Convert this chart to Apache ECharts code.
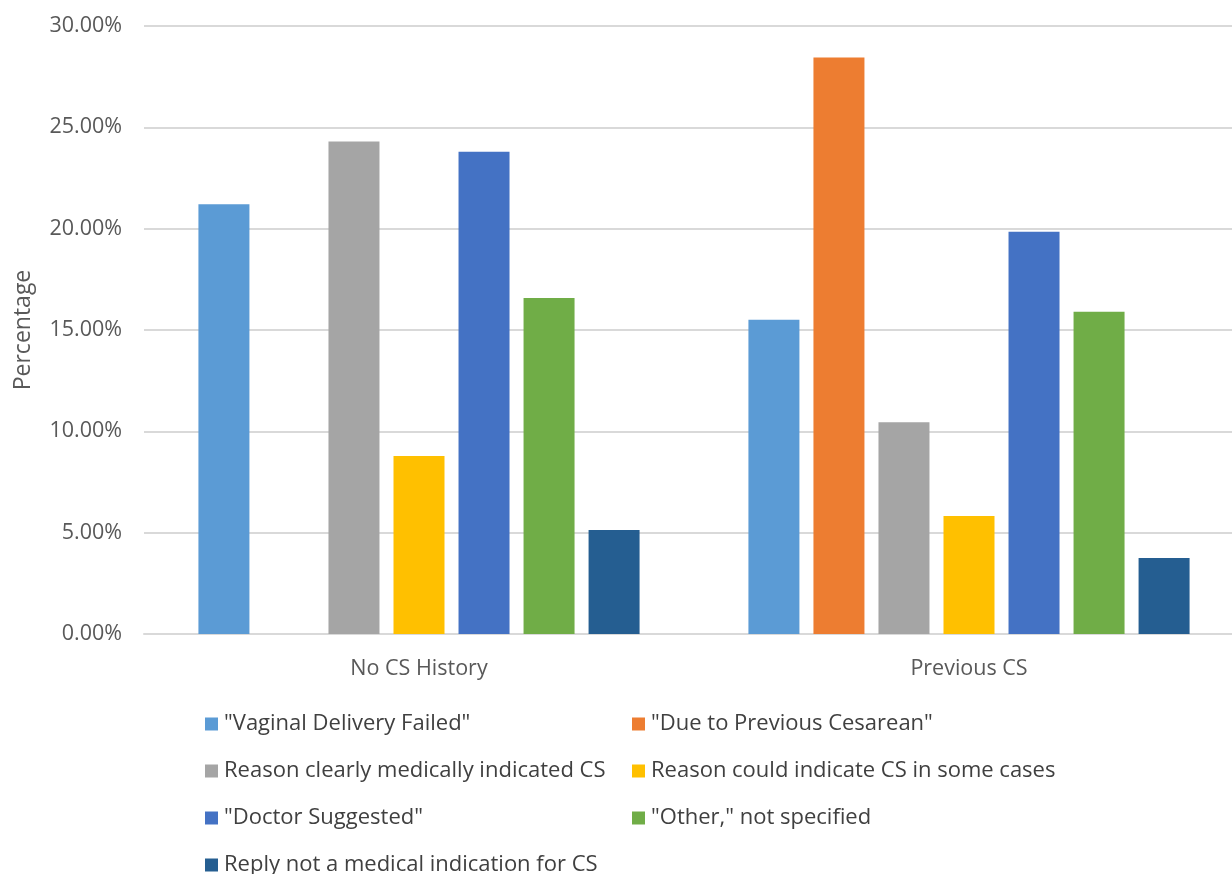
<!DOCTYPE html>
<html><head><meta charset="utf-8">
<script src="https://cdn.jsdelivr.net/npm/echarts@6/dist/echarts.min.js"></script>
<style>html,body{margin:0;padding:0;background:#fff;overflow:hidden}#c{width:1244px;height:874px}</style>
</head><body><div id="c"></div>
<script>
const categories = ["No CS History", "Previous CS"];
const seriesNames = ['"Vaginal Delivery Failed"', '"Due to Previous Cesarean"', 'Reason clearly medically indicated CS', 'Reason could indicate CS in some cases', '"Doctor Suggested"', '"Other," not specified', 'Reply not a medical indication for CS'];
const vaginalFailed = [21.2, 15.5];
const duePrevious = ['-', 28.45];
const clearlyIndicated = [24.3, 10.45];
const couldIndicate = [8.78, 5.82];
const doctorSuggested = [23.8, 19.85];
const otherNotSpecified = [16.58, 15.9];
const notMedical = [5.13, 3.75];
const yTicks = [0, 5, 10, 15, 20, 25, 30];
const colors = ['#5B9BD5', '#ED7D31', '#A5A5A5', '#FFC000', '#4472C4', '#70AD47', '#255E91'];
const values = [vaginalFailed, duePrevious, clearlyIndicated, couldIndicate, doctorSuggested, otherNotSpecified, notMedical];

const font = '"Open Sans", sans-serif';
// legend placement: column x and row index per series
const legendCol = [205, 632, 205, 632, 205, 632, 205];
const legendRow = [0, 0, 1, 1, 2, 2, 3];
const chart = echarts.init(document.getElementById('c'));
chart.setOption({
  animation: false,
  color: colors,
  grid: { left: 144, right: 0, top: 26, height: 608 },
  xAxis: {
    type: 'category', data: categories,
    axisLine: { lineStyle: { color: '#d9d9d9', width: 2 } },
    axisTick: { show: false },
    axisLabel: { color: '#595959', fontSize: 21.5, fontFamily: font, margin: 24 }
  },
  yAxis: {
    type: 'value', min: yTicks[0], max: yTicks[yTicks.length - 1], interval: 5,
    name: 'Percentage', nameLocation: 'middle', nameGap: 109, nameRotate: 90,
    nameTextStyle: { color: '#595959', fontSize: 23, fontFamily: font },
    axisLine: { show: false }, axisTick: { show: false },
    axisLabel: { color: '#595959', fontSize: 21.5, fontFamily: font, margin: 22,
      formatter: v => v.toFixed(2) + '%' },
    splitLine: { lineStyle: { color: '#d9d9d9', width: 2 } }
  },
  legend: seriesNames.map((n, i) => ({
    orient: 'horizontal', left: legendCol[i], top: 713 + legendRow[i] * 47, padding: 0,
    itemWidth: 13, itemHeight: 13, icon: 'rect',
    textStyle: { color: '#404040', fontSize: 22, fontFamily: font, padding: [0, 0, 0, 1] },
    data: [n]
  })),
  series: seriesNames.map((n, i) => ({
    name: n, type: 'bar', data: values[i], barWidth: 51, barGap: '27.5%'
  }))
});
</script></body></html>
